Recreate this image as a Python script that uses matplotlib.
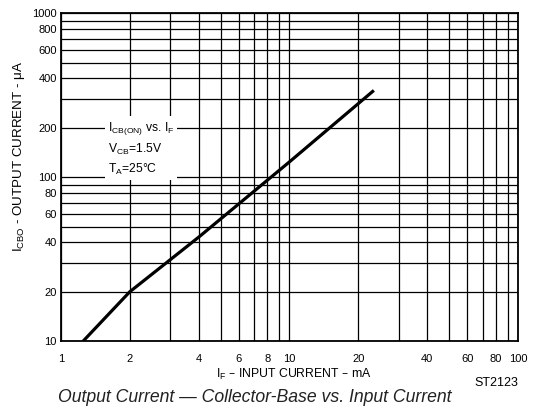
import numpy as np
import matplotlib.pyplot as plt
from matplotlib.ticker import FixedLocator, NullFormatter

plt.rcParams['font.family'] = ['Liberation Sans', 'DejaVu Sans']

# curve
if_ma = [1.25, 2, 4, 10, 23.4]
icbo_ua = [10, 20, 43, 124, 338]

x_ticks = [1, 2, 4, 6, 8, 10, 20, 40, 60, 80, 100]
y_ticks = [10, 20, 40, 60, 80, 100, 200, 400, 600, 800, 1000]
x_grid = [k * 10 ** d for d in range(0, 2) for k in range(1, 10)] + [100]
y_grid = [k * 10 ** d for d in range(1, 3) for k in range(1, 10)] + [1000]

fig = plt.figure(figsize=(5.46, 4.12), dpi=100)
ax = fig.add_axes([0.1117, 0.172, 0.8370, 0.796])

ax.set_xscale('log')
ax.set_yscale('log')
ax.set_xlim(1, 100)
ax.set_ylim(10, 1000)

for xv in x_grid:
    ax.axvline(xv, color='black', lw=0.9, zorder=1)
for yv in y_grid:
    ax.axhline(yv, color='black', lw=0.9, zorder=1)

ax.plot(if_ma, icbo_ua, color='black', lw=2.3, solid_capstyle='butt', zorder=3)

ax.xaxis.set_major_locator(FixedLocator(x_ticks))
ax.yaxis.set_major_locator(FixedLocator(y_ticks))
ax.xaxis.set_minor_formatter(NullFormatter())
ax.yaxis.set_minor_formatter(NullFormatter())
ax.set_xticklabels([str(v) for v in x_ticks])
ax.set_yticklabels([str(v) for v in y_ticks])
ax.tick_params(which='both', length=0, labelsize=8)
ax.tick_params(axis='x', pad=9)
ax.tick_params(axis='y', pad=3)

for s in ax.spines.values():
    s.set_linewidth(1.3)

ax.text(1.6, 222, '$\\mathregular{I_{CB(ON)}}$ vs. $\\mathregular{I_F}$\n'
        '$\\mathregular{V_{CB}}$=1.5V\n$\\mathregular{T_A}$=25°C',
        fontsize=8.7, va='top', ha='left', linespacing=1.45, zorder=4,
        bbox=dict(facecolor='white', edgecolor='none', pad=2))

fig.text(0.035, 0.62, '$\\mathregular{I_{CBO}}$ - OUTPUT CURRENT - μA',
         rotation=90, ha='center', va='center', fontsize=9.6)
fig.text(0.537, 0.09, '$\\mathregular{I_F}$ – INPUT CURRENT – mA',
         ha='center', va='center', fontsize=8.8)
fig.text(0.95, 0.07, 'ST2123', ha='right', va='center', fontsize=9)
fig.text(0.467, 0.035, 'Output Current — Collector-Base vs. Input Current',
         ha='center', va='center', fontsize=12.7, style='italic', color='#222222')

fig.savefig('out.png', dpi=100)
